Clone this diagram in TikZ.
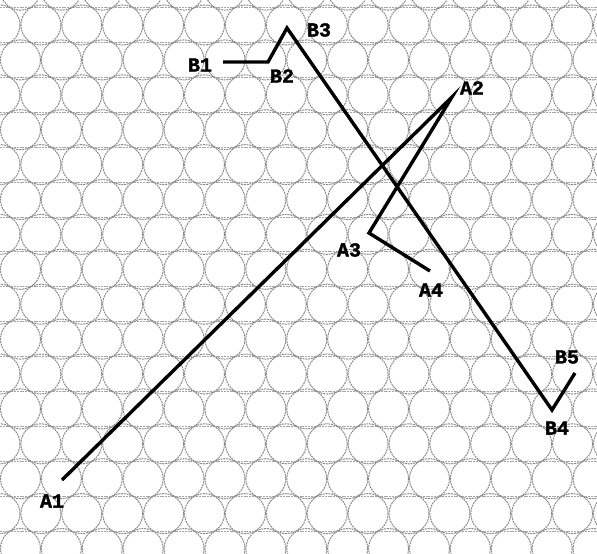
\documentclass[tikz,border=0pt]{standalone}
\usepackage{fontspec}
\newfontfamily\labfont[BoldFeatures={FakeBold=1.6}]{Liberation Mono}
\begin{document}
\begin{tikzpicture}[x=1pt,y=-1pt,
  bubble/.style={draw=black!45,line width=1pt,dash pattern=on 2pt off 0.8pt},
  hline/.style={draw=black!35,line width=0.9pt,dash pattern=on 2pt off 0.8pt},
  route/.style={draw=black,line width=3.4pt,line join=miter},
  lab/.style={font=\labfont\bfseries\fontsize{20}{20}\selectfont,inner sep=0pt}]
\useasboundingbox (0,0) rectangle (597,554);
\fill[white] (0,0) rectangle (597,554);
\begin{scope}
\clip (0,0) rectangle (597,554);
\foreach \k in {-1,...,15} {
  \pgfmathsetmacro\yy{25+34.9*\k}
  \pgfmathsetmacro\off{mod(\k+2,2)*20.45}
  \foreach \n in {-1,...,15} {
    \draw[bubble] (\off+40.9*\n,\yy) circle (20);
  }
  \draw[hline] (0,\yy+17.45) -- (597,\yy+17.45);
}
\end{scope}
% route points
\coordinate (a1) at (62,480);
\coordinate (a2) at (452,97);
\coordinate (a3) at (369,233);
\coordinate (a4) at (430,271);
\coordinate (b1) at (223,62);
\coordinate (b2) at (268,62);
\coordinate (b3) at (287,28);
\coordinate (b4) at (552,410);
\coordinate (b5) at (575,373);
\draw[route] (a1) -- (a2) -- (a3) -- (a4);
\draw[route] (b1) -- (b2) -- (b3) -- (b4) -- (b5);
% labels
\node[lab] (la1) at (52,501) {A1};
\node[lab] (la2) at (472,88) {A2};
\node[lab] (la3) at (349,250) {A3};
\node[lab] (la4) at (431,290) {A4};
\node[lab] (lb1) at (200,65) {B1};
\node[lab] (lb2) at (282,76) {B2};
\node[lab] (lb3) at (319,30) {B3};
\node[lab] (lb4) at (557,428) {B4};
\node[lab] (lb5) at (567,357) {B5};
\end{tikzpicture}
\end{document}
